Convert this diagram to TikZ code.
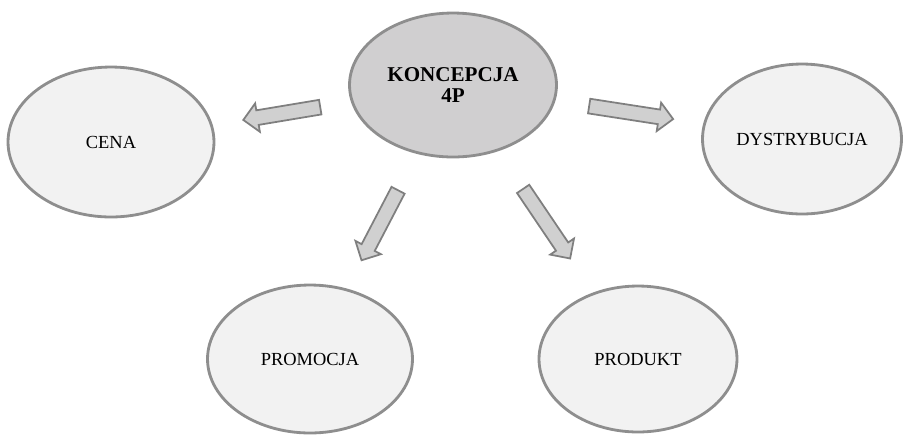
\documentclass[tikz,border=0pt]{standalone}
\usepackage{fontspec}
\setmainfont{Liberation Serif}
\usetikzlibrary{shapes,arrows,positioning,calc}

\definecolor{rimgray}{HTML}{8E8E8E}
\definecolor{hubfill}{HTML}{D0CFD0}
\definecolor{leaffill}{HTML}{F2F2F2}
\definecolor{arrowfill}{HTML}{D0D0D0}
\definecolor{arrowrim}{HTML}{7F7F7F}

\tikzset{
  leaf/.style={ellipse, draw=rimgray, fill=leaffill, line width=1.6pt, inner sep=0pt,
    font=\fontsize{10.5}{12}\selectfont},
  hub/.style={ellipse, draw=rimgray, fill=hubfill, line width=1.6pt, inner sep=0pt,
    align=center, font=\fontsize{12}{11.5}\selectfont\bfseries},
  fatarrow/.style={single arrow, draw=arrowrim, fill=arrowfill, line width=1pt,
    inner xsep=0pt, inner ysep=0.13cm, single arrow head extend=0.14cm,
    sloped, allow upside down}
}

\begin{document}
\begin{tikzpicture}[x=0.02cm, y=-0.02cm]
  \useasboundingbox (0,0) rectangle (903,434);

  \node[hub, minimum width=4.14cm, minimum height=2.88cm] (koncepcja) at (453,85) {KONCEPCJA\\4P};
  \node[leaf, minimum width=4.12cm, minimum height=3.0cm] (cena) at (111,142) {CENA};
  \node[leaf, minimum width=3.98cm, minimum height=3.0cm] (dystrybucja) at (802,139) {DYSTRYBUCJA};
  \node[leaf, minimum width=4.1cm, minimum height=2.96cm] (promocja) at (310,359) {PROMOCJA};
  \node[leaf, minimum width=3.96cm, minimum height=2.92cm] (produkt) at (638,359) {PRODUKT};

  \path (koncepcja.center) -- node[fatarrow, pos=0.49, minimum height=1.56cm] (docena) {} (cena.center);
  \path (koncepcja.center) -- node[fatarrow, pos=0.5, minimum height=1.7cm] (dodystr) {} (dystrybucja.center);
  \path (koncepcja.center) -- node[fatarrow, pos=0.5, minimum height=1.58cm] (dopromo) {} (promocja.center);
  \path (koncepcja.center) -- node[fatarrow, pos=0.495, minimum height=1.68cm] (doprodukt) {} (produkt.center);
\end{tikzpicture}
\end{document}
